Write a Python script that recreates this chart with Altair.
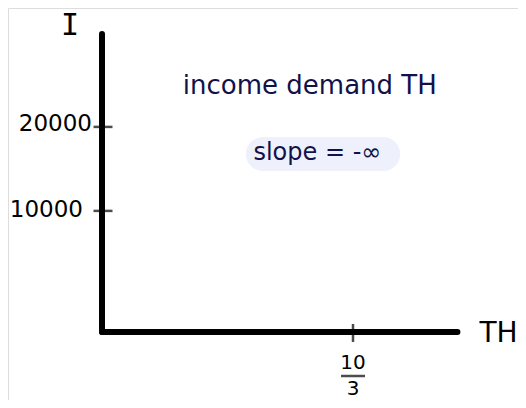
import altair as alt
import pandas as pd

# ---- data ----
x_tick_values = [10 / 3]
x_tick_num = ["10"]
x_tick_den = ["3"]
y_tick_values = [10000, 20000]
y_tick_labels = ["10000", "20000"]
x_axis_title = "TH"
y_axis_title = "I"
annotation_title = "income demand TH"
annotation_slope = "slope = -∞"

X_MAX = 4.72
Y_MAX = 32700

NAVY = "#12124a"
FONT = "DejaVu Sans"

xs = alt.Scale(domain=[0, X_MAX], range=[94, 94 + X_MAX * 75.3], nice=False, zero=False)
ys = alt.Scale(type="pow", exponent=0.76, domain=[0, Y_MAX], range=[324, 26], nice=False, zero=False)

axes_df = pd.DataFrame({
    "x": [0, 0], "y": [0, 0],
    "x2": [0, X_MAX], "y2": [Y_MAX, 0],
})
origin_df = pd.DataFrame({"x": [0], "y": [0], "xm": [X_MAX], "ym": [Y_MAX]})
yt_df = pd.DataFrame({"x": [0] * len(y_tick_values), "y": y_tick_values, "label": y_tick_labels})
xt_df = pd.DataFrame({"x": x_tick_values, "y": [0], "num": x_tick_num, "den": x_tick_den})
ann_df = pd.DataFrame({
    "x": [2.76], "y": [25400], "label": [annotation_title],
    "sx": [2.86], "sy": [16720], "slope": [annotation_slope],
    "px1": [1.91], "px2": [3.96], "py1": [18715], "py2": [14545],
})

X = lambda f="x": alt.X(f"{f}:Q", scale=xs, axis=None)
Y = lambda f="y": alt.Y(f"{f}:Q", scale=ys, axis=None)

axes = alt.Chart(axes_df).mark_rule(strokeWidth=6, strokeCap="round", color="black").encode(
    x=X(), y=Y(), x2="x2:Q", y2="y2:Q")

yticks = alt.Chart(yt_df).mark_tick(orient="horizontal", size=19, thickness=2.5, color="black", xOffset=1).encode(
    x=X(), y=Y())

ylab_20 = alt.Chart(yt_df).transform_filter("datum.y == 20000").mark_text(
    align="right", baseline="middle", dx=-10, dy=-3, fontSize=23, font=FONT, color="black").encode(
    x=X(), y=Y(), text="label:N")
ylab_10 = alt.Chart(yt_df).transform_filter("datum.y == 10000").mark_text(
    align="right", baseline="middle", dx=-19, dy=-1, fontSize=23, font=FONT, color="black").encode(
    x=X(), y=Y(), text="label:N")

xticks = alt.Chart(xt_df).mark_tick(orient="vertical", size=18, thickness=2.5, color="black", yOffset=1).encode(
    x=X(), y=Y())
xnum = alt.Chart(xt_df).mark_text(baseline="middle", dy=31, fontSize=20, font=FONT, color="black").encode(
    x=X(), y=Y(), text="num:N")
xbar = alt.Chart(xt_df).mark_tick(orient="horizontal", size=24, thickness=2.5, color="black", yOffset=44).encode(
    x=X(), y=Y())
xden = alt.Chart(xt_df).mark_text(baseline="middle", dy=57, fontSize=20, font=FONT, color="black").encode(
    x=X(), y=Y(), text="den:N")

ytitle = alt.Chart(origin_df).mark_text(baseline="middle", dx=-32, dy=-8, fontSize=30, font="DejaVu Sans Mono", color="black").encode(
    x=X(), y=Y("ym"), text=alt.value(y_axis_title))
xtitle = alt.Chart(origin_df).mark_text(align="left", baseline="middle", dx=22, dy=2, fontSize=28, font=FONT, color="black").encode(
    x=X("xm"), y=Y(), text=alt.value(x_axis_title))

pill = alt.Chart(ann_df).mark_rect(color="#eef1fb", cornerRadius=17).encode(
    x=X("px1"), x2="px2:Q", y=Y("py1"), y2="py2:Q")
title_txt = alt.Chart(ann_df).mark_text(baseline="middle", fontSize=26, font=FONT, color=NAVY).encode(
    x=X(), y=Y(), text="label:N")
slope_txt = alt.Chart(ann_df).mark_text(baseline="middle", fontSize=24, font=FONT, color=NAVY).encode(
    x=X("sx"), y=Y("sy"), text="slope:N")

chart = alt.layer(
    pill, axes, yticks, ylab_20, ylab_10, xticks, xnum, xbar, xden, ytitle, xtitle, title_txt, slope_txt
).properties(
    width=510, height=392, padding=0, autosize=alt.AutoSizeParams(type="none")
).configure_view(stroke=None, strokeWidth=0).configure(background="white")

chart.save("out.html", embed_options={"renderer": "svg", "actions": False})
